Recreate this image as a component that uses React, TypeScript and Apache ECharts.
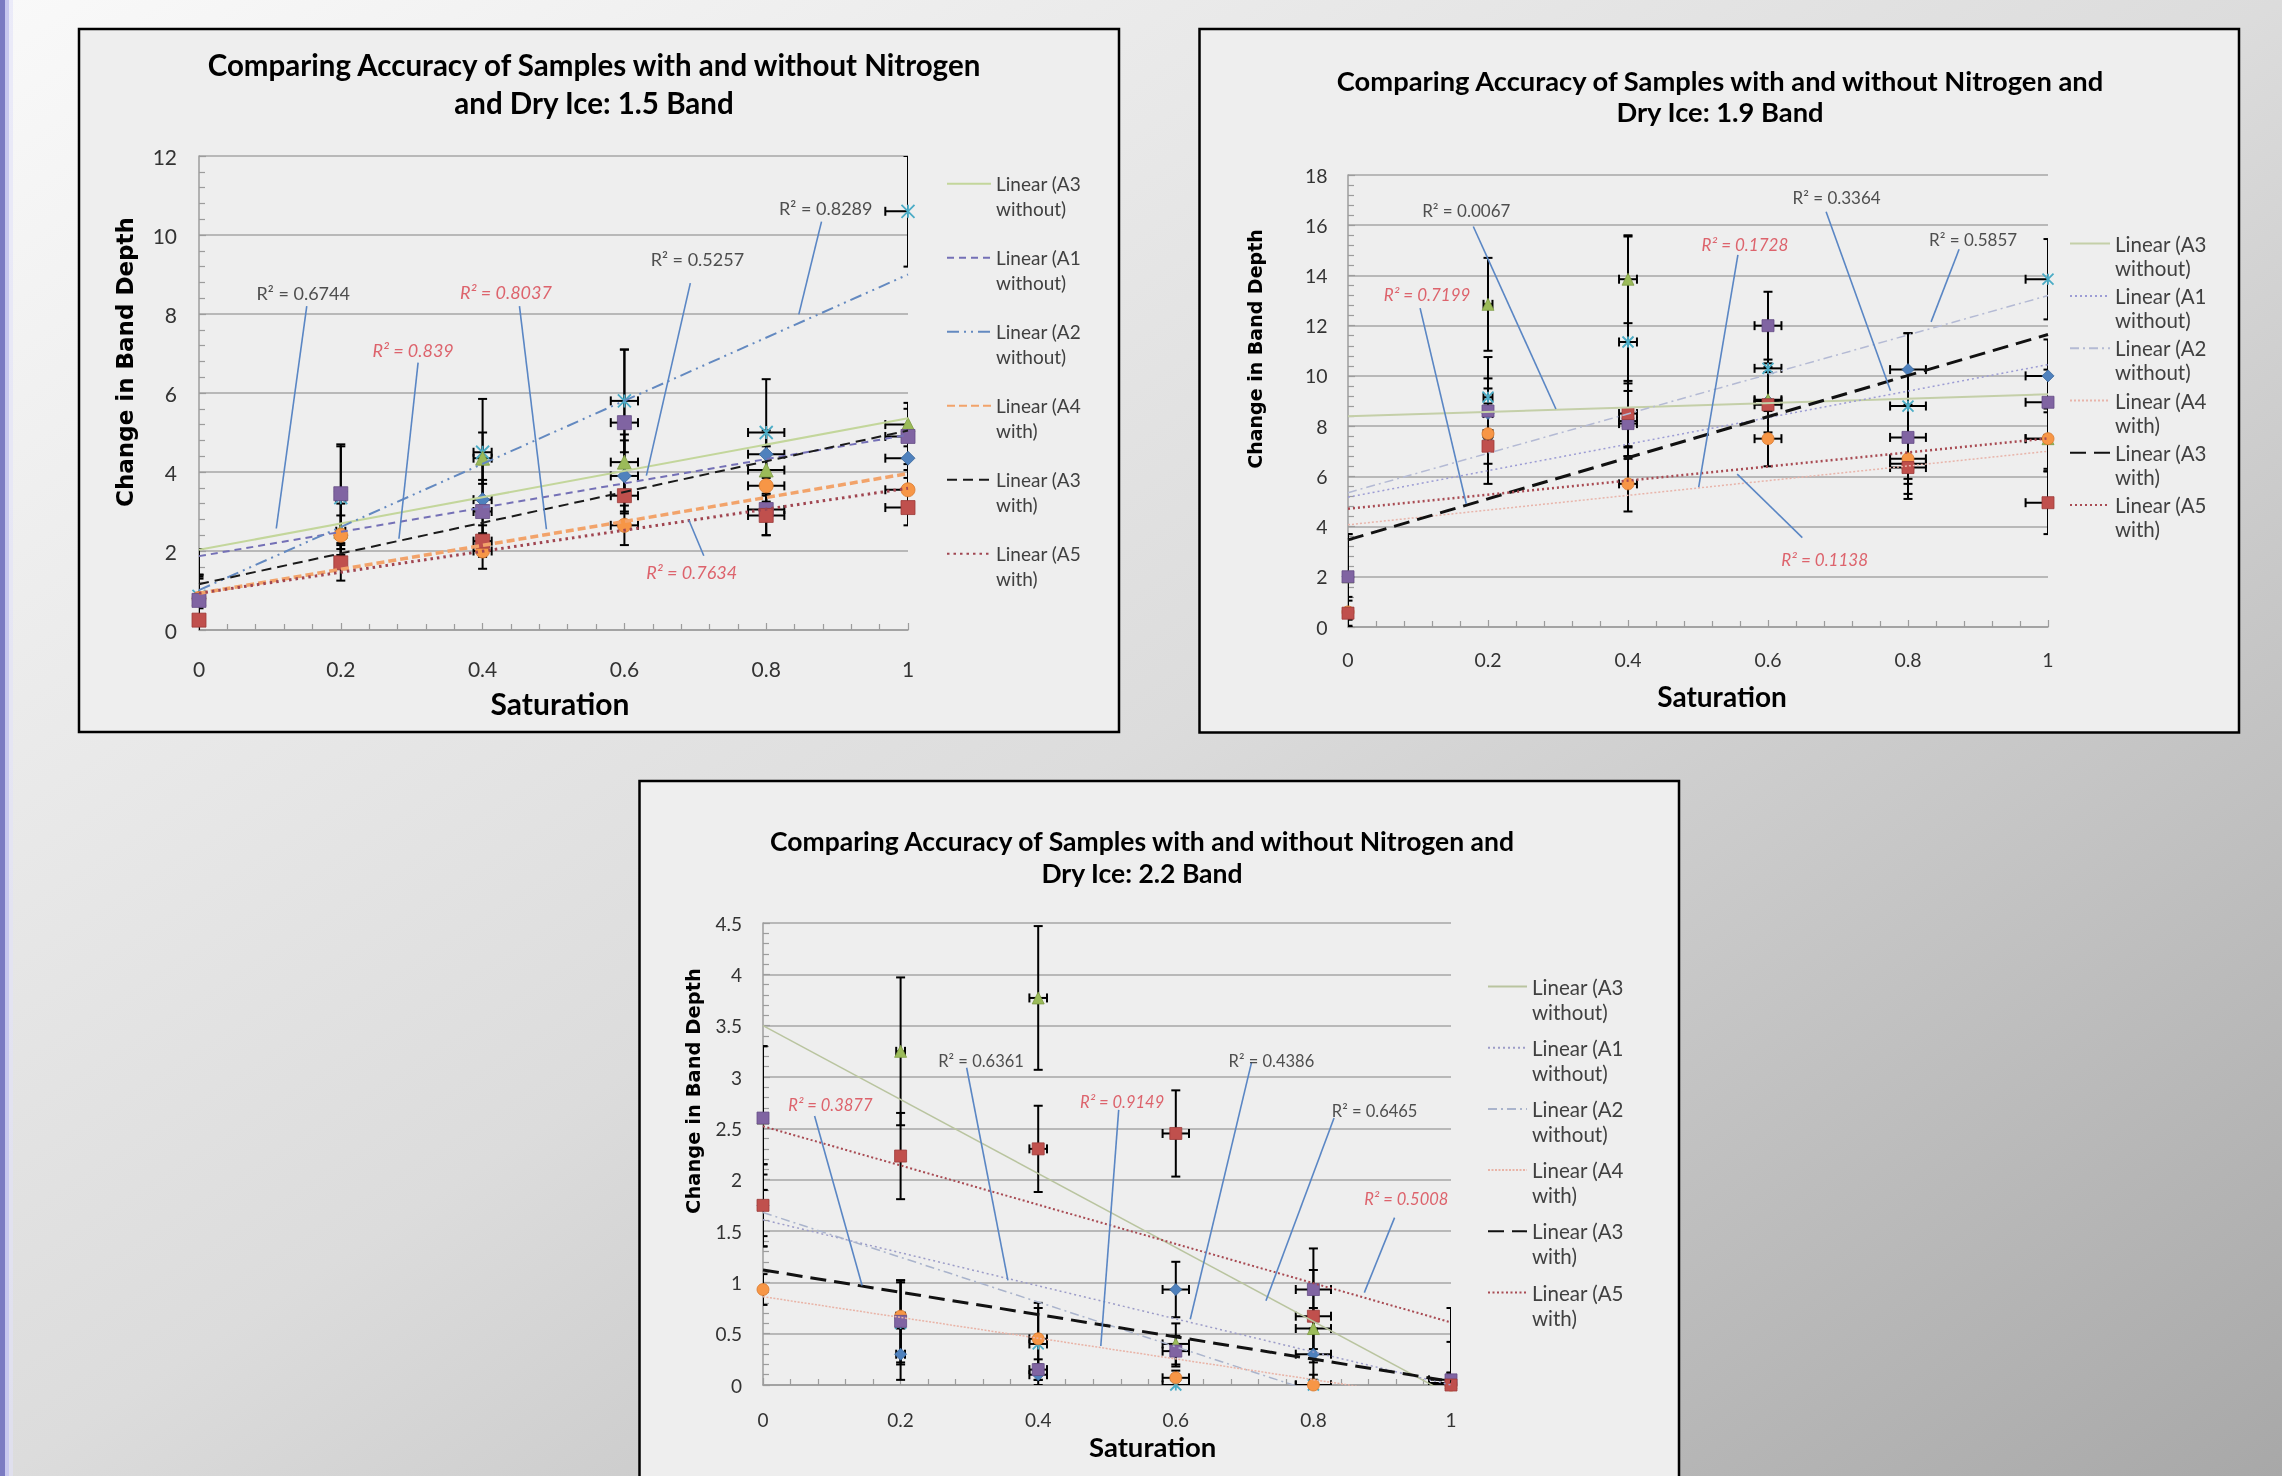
import React, { useEffect, useRef } from 'react';
import * as echarts from 'echarts';

// ---------- shared categories / labels ----------
const SATURATION = [0, 0.2, 0.4, 0.6, 0.8, 1];
const TRENDLINE_NAMES = [
  'Linear (A3 without)',
  'Linear (A1 without)',
  'Linear (A2 without)',
  'Linear (A4 with)',
  'Linear (A3 with)',
  'Linear (A5 with)',
];
const SAMPLE_NAMES = ['A1 without', 'A2 without', 'A3 without', 'A4 with', 'A3 with', 'A5 with'];
const CHART_TITLES = [
  'Comparing Accuracy of Samples with and without Nitrogen\nand Dry Ice: 1.5 Band',
  'Comparing Accuracy of Samples with and without Nitrogen and\nDry Ice: 1.9 Band',
  'Comparing Accuracy of Samples with and without Nitrogen and\nDry Ice: 2.2 Band',
];
const X_AXIS_TITLE = 'Saturation';
const Y_AXIS_TITLE = 'Change in Band Depth';
const X_ERROR_FRACTION = 0.032;

// ---------- 1.5 band ----------
const B15_A1_WITHOUT = [0.8, 2.4, 3.3, 3.9, 4.45, 4.35];
const B15_A2_WITHOUT = [0.85, 3.35, 4.5, 5.8, 5.0, 10.6];
const B15_A3_WITHOUT = [0.8, 2.5, 4.35, 4.25, 4.05, 5.2];
const B15_A4_WITH = [0.8, 2.4, 2.0, 2.65, 3.65, 3.55];
const B15_A3_WITH = [0.75, 3.45, 3.0, 5.25, 3.05, 4.9];
const B15_A5_WITH = [0.25, 1.7, 2.25, 3.4, 2.9, 3.1];
const B15_A1_WITHOUT_ERR = [0.6, 0.8, 0.9, 0.9, 0.6, 0.5];
const B15_A2_WITHOUT_ERR = [1.2, 1.3, 1.35, 1.3, 1.35, 1.4];
const B15_A3_WITHOUT_ERR = [0.6, 0.8, 0.65, 0.7, 0.6, 0.55];
const B15_A4_WITH_ERR = [0.5, 0.5, 0.45, 0.5, 0.4, 0.5];
const B15_A3_WITH_ERR = [0.6, 1.25, 0.8, 1.85, 0.65, 0.7];
const B15_A5_WITH_ERR = [0.3, 0.45, 0.4, 0.45, 0.5, 0.45];
const B15_TREND_AT_0 = [2.03, 1.87, 1.01, 0.93, 1.16, 0.93];
const B15_TREND_AT_1 = [5.36, 4.94, 9.0, 3.96, 5.05, 3.59];
const B15_R2 = [
  { text: 'R² = 0.6744', fit: 'without', at: [0.147, 8.52], from: [0.152, 8.2], to: [0.109, 2.57] },
  { text: 'R² = 0.839', fit: 'with', at: [0.302, 7.1], from: [0.309, 6.77], to: [0.282, 2.31] },
  { text: 'R² = 0.8037', fit: 'with', at: [0.433, 8.55], from: [0.452, 8.2], to: [0.49, 2.55] },
  { text: 'R² = 0.5257', fit: 'without', at: [0.703, 9.38], from: [0.693, 8.78], to: [0.631, 3.91] },
  { text: 'R² = 0.8289', fit: 'without', at: [0.884, 10.69], from: [0.878, 10.34], to: [0.846, 7.99] },
  { text: 'R² = 0.7634', fit: 'with', at: [0.695, 1.47], from: [0.712, 1.88], to: [0.691, 2.78] },
];

// ---------- 1.9 band ----------
const B19_A1_WITHOUT = [2.0, 8.5, 8.2, 9.0, 10.25, 10.0];
const B19_A2_WITHOUT = [2.0, 9.15, 11.35, 10.3, 8.8, 13.85];
const B19_A3_WITHOUT = [2.0, 12.85, 13.85, 9.05, 6.5, 7.5];
const B19_A4_WITH = [0.6, 7.7, 5.7, 7.5, 6.7, 7.5];
const B19_A3_WITH = [2.0, 8.6, 8.1, 12.0, 7.55, 8.95];
const B19_A5_WITH = [0.55, 7.2, 8.5, 8.85, 6.35, 4.95];
const B19_A1_WITHOUT_ERR = [1.5, 1.0, 1.5, 1.5, 1.45, 1.45];
const B19_A2_WITHOUT_ERR = [1.7, 1.6, 4.2, 1.6, 2.9, 1.6];
const B19_A3_WITHOUT_ERR = [1.5, 1.85, 1.75, 1.3, 1.2, 1.3];
const B19_A4_WITH_ERR = [0.6, 1.2, 1.1, 1.1, 1.0, 1.2];
const B19_A3_WITH_ERR = [1.7, 1.3, 1.3, 1.35, 1.3, 1.3];
const B19_A5_WITH_ERR = [0.5, 1.5, 1.3, 1.3, 1.25, 1.25];
const B19_TREND_AT_0 = [8.39, 5.17, 5.35, 4.07, 3.47, 4.71];
const B19_TREND_AT_1 = [9.27, 10.45, 13.2, 7.0, 11.65, 7.51];
const B19_R2 = [
  { text: 'R² = 0.0067', fit: 'without', at: [0.169, 16.59], from: [0.179, 15.95], to: [0.297, 8.68] },
  { text: 'R² = 0.7199', fit: 'with', at: [0.113, 13.25], from: [0.103, 12.7], to: [0.169, 4.9] },
  { text: 'R² = 0.1728', fit: 'with', at: [0.567, 15.22], from: [0.557, 14.82], to: [0.501, 5.57] },
  { text: 'R² = 0.3364', fit: 'without', at: [0.698, 17.09], from: [0.683, 16.54], to: [0.775, 9.41] },
  { text: 'R² = 0.5857', fit: 'without', at: [0.893, 15.44], from: [0.873, 15.04], to: [0.833, 12.15] },
  { text: 'R² = 0.1138', fit: 'with', at: [0.681, 2.7], from: [0.649, 3.56], to: [0.556, 6.09] },
];

// ---------- 2.2 band ----------
const B22_A1_WITHOUT = [1.75, 0.3, 0.1, 0.93, 0.3, 0.02];
const B22_A2_WITHOUT = [1.75, 0.6, 0.4, 0.0, 0.0, 0.02];
const B22_A3_WITHOUT = [2.6, 3.25, 3.77, 0.4, 0.55, 0.02];
const B22_A4_WITH = [0.93, 0.67, 0.45, 0.07, 0.0, 0.0];
const B22_A3_WITH = [2.6, 0.62, 0.15, 0.33, 0.93, 0.05];
const B22_A5_WITH = [1.75, 2.23, 2.3, 2.45, 0.67, 0.0];
const B22_A1_WITHOUT_ERR = [0.3, 0.25, 0.1, 0.27, 0.25, 0.4];
const B22_A2_WITHOUT_ERR = [0.4, 0.4, 0.35, 0.1, 0.1, 0.1];
const B22_A3_WITHOUT_ERR = [0.7, 0.72, 0.7, 0.2, 0.2, 0.1];
const B22_A4_WITH_ERR = [0.15, 0.35, 0.35, 0.07, 0.05, 0.05];
const B22_A3_WITH_ERR = [0.7, 0.4, 0.1, 0.15, 0.4, 0.7];
const B22_A5_WITH_ERR = [0.4, 0.42, 0.42, 0.42, 0.45, 0.1];
const B22_TREND_AT_0 = [3.5, 1.61, 1.68, 0.86, 1.12, 2.52];
const B22_TREND_AT_1 = [-0.1, 0.0, -0.5, -0.15, 0.035, 0.61];
const B22_R2 = [
  { text: 'R² = 0.3877', fit: 'with', at: [0.098, 2.73], from: [0.075, 2.62], to: [0.144, 0.97] },
  { text: 'R² = 0.6361', fit: 'without', at: [0.317, 3.16], from: [0.296, 3.09], to: [0.356, 1.02] },
  { text: 'R² = 0.9149', fit: 'with', at: [0.522, 2.76], from: [0.517, 2.68], to: [0.491, 0.38] },
  { text: 'R² = 0.4386', fit: 'without', at: [0.739, 3.16], from: [0.71, 3.14], to: [0.621, 0.64] },
  { text: 'R² = 0.6465', fit: 'without', at: [0.889, 2.67], from: [0.83, 2.6], to: [0.731, 0.82] },
  { text: 'R² = 0.5008', fit: 'with', at: [0.935, 1.81], from: [0.918, 1.63], to: [0.874, 0.9] },
];

// ---------- styles ----------
const STAR_PATH = 'path://M0 0L10 10M10 0L0 10M5 0L5 10';
const MARKERS = [
  { symbol: 'diamond', color: '#4F81BD', border: '#3a679c' },
  { symbol: STAR_PATH, color: 'rgba(0,0,0,0)', border: '#4BACC6' },
  { symbol: 'triangle', color: '#9BBB59', border: '#7f9c44' },
  { symbol: 'circle', color: '#F79646', border: '#d97a2e' },
  { symbol: 'rect', color: '#8064A2', border: '#654c85' },
  { symbol: 'rect', color: '#C0504D', border: '#9c3a38' },
];
const RED_LABEL = '#d8404b';
const FONT = 'Lato';

const TREND_STYLES_1 = [
  { color: '#c3d69b', width: 2, type: 'solid' },
  { color: '#7470b6', width: 2, type: [7, 5] },
  { color: '#6389c0', width: 2, type: [12, 5, 2, 5, 2, 5] },
  { color: '#f2a36a', width: 3.5, type: [8, 4] },
  { color: '#1a1a1a', width: 2, type: [10, 6] },
  { color: '#a04550', width: 3, type: [2.5, 4] },
];
const TREND_STYLES_2 = [
  { color: '#c4cfa8', width: 2, type: 'solid' },
  { color: '#9c9cd4', width: 1.5, type: [2, 3] },
  { color: '#b4bad4', width: 1.5, type: [9, 4, 2, 4] },
  { color: '#e8b4aa', width: 1.5, type: [2, 2] },
  { color: '#111111', width: 3, type: [16, 8] },
  { color: '#a84a52', width: 2.5, type: [2, 3] },
];
const TREND_STYLES_3 = [
  { color: '#b9c49f', width: 1.5, type: 'solid' },
  { color: '#9c9cc8', width: 1.5, type: [2, 3] },
  { color: '#aab4cc', width: 1.5, type: [9, 4, 2, 4] },
  { color: '#e9b3a6', width: 1.5, type: [2, 1.5] },
  { color: '#111111', width: 3, type: [16, 8] },
  { color: '#a84a52', width: 2, type: [2, 2.5] },
];

const PANELS = [
  {
    title: CHART_TITLES[0],
    values: [B15_A1_WITHOUT, B15_A2_WITHOUT, B15_A3_WITHOUT, B15_A4_WITH, B15_A3_WITH, B15_A5_WITH],
    errors: [B15_A1_WITHOUT_ERR, B15_A2_WITHOUT_ERR, B15_A3_WITHOUT_ERR, B15_A4_WITH_ERR, B15_A3_WITH_ERR, B15_A5_WITH_ERR],
    trend0: B15_TREND_AT_0, trend1: B15_TREND_AT_1, r2: B15_R2, trendStyles: TREND_STYLES_1,
    yMax: 12, yInterval: 2,
    grid: { left: 199, top: 156, width: 709, height: 474 },
    box: [79, 29, 1040, 703],
    titleX: 594, titleTop: 45, titleSize: 29.5, titleLH: 38,
    legendLeft: 946, legendTop: 147, legendIconW: 44, legendSize: 19, legendLH: 24.5, legendGap: 0.5,
    tickSize: 21, xLabelMargin: 28, yLabelMargin: 22,
    r2Size: 18, markerSize: 14,
    yTitle: [125, 362, 23], xTitle: [560, 703, 30],
  },
  {
    title: CHART_TITLES[1],
    values: [B19_A1_WITHOUT, B19_A2_WITHOUT, B19_A3_WITHOUT, B19_A4_WITH, B19_A3_WITH, B19_A5_WITH],
    errors: [B19_A1_WITHOUT_ERR, B19_A2_WITHOUT_ERR, B19_A3_WITHOUT_ERR, B19_A4_WITH_ERR, B19_A3_WITH_ERR, B19_A5_WITH_ERR],
    trend0: B19_TREND_AT_0, trend1: B19_TREND_AT_1, r2: B19_R2, trendStyles: TREND_STYLES_2,
    yMax: 18, yInterval: 2,
    grid: { left: 1348, top: 175, width: 700, height: 452 },
    box: [1199.5, 29, 1039.5, 703.5],
    titleX: 1720, titleTop: 65, titleSize: 27.3, titleLH: 31,
    legendLeft: 2069, legendTop: 207.6, legendIconW: 40, legendSize: 20.5, legendLH: 24, legendGap: -19.7,
    tickSize: 19.5, xLabelMargin: 22, yLabelMargin: 20.5,
    r2Size: 17, markerSize: 12,
    yTitle: [1255, 349, 19], xTitle: [1722, 696, 28],
  },
  {
    title: CHART_TITLES[2],
    values: [B22_A1_WITHOUT, B22_A2_WITHOUT, B22_A3_WITHOUT, B22_A4_WITH, B22_A3_WITH, B22_A5_WITH],
    errors: [B22_A1_WITHOUT_ERR, B22_A2_WITHOUT_ERR, B22_A3_WITHOUT_ERR, B22_A4_WITH_ERR, B22_A3_WITH_ERR, B22_A5_WITH_ERR],
    trend0: B22_TREND_AT_0, trend1: B22_TREND_AT_1, r2: B22_R2, trendStyles: TREND_STYLES_3,
    yMax: 4.5, yInterval: 0.5,
    grid: { left: 763, top: 923, width: 688, height: 462 },
    box: [639.5, 781, 1039.5, 730],
    titleX: 1142, titleTop: 825, titleSize: 26.5, titleLH: 32,
    legendLeft: 1487, legendTop: 949, legendIconW: 39, legendSize: 20.5, legendLH: 25, legendGap: -13.8,
    tickSize: 19, xLabelMargin: 24.5, yLabelMargin: 21,
    r2Size: 16.5, markerSize: 12,
    yTitle: [693.5, 1091, 19.5], xTitle: [1152.6, 1446, 27.5],
  },
];

const ZWS = '\u200b';
// leading blank line so that the first text line sits level with the legend line icon
const legendLabel = (name: string) => {
  const base = name.split(ZWS).join('');
  const i = base.lastIndexOf(' ');
  return ' \n' + base.slice(0, i) + '\n' + base.slice(i + 1);
};

function errorBarRenderer(params: any, api: any) {
  const x = api.value(0);
  const y = api.value(1);
  const ey = api.value(2);
  const ex = api.value(3);
  const top = api.coord([x, y + ey]);
  const bot = api.coord([x, y - ey]);
  const style = { stroke: '#000', lineWidth: 2 };
  const cap = 4.5;
  const children: any[] = [
    { type: 'line', shape: { x1: top[0], y1: top[1], x2: bot[0], y2: bot[1] }, style },
    { type: 'line', shape: { x1: top[0] - cap, y1: top[1], x2: top[0] + cap, y2: top[1] }, style },
    { type: 'line', shape: { x1: bot[0] - cap, y1: bot[1], x2: bot[0] + cap, y2: bot[1] }, style },
  ];
  if (ex > 0) {
    const l = api.coord([x - ex, y]);
    const r = api.coord([x + ex, y]);
    children.push(
      { type: 'line', shape: { x1: l[0], y1: l[1], x2: r[0], y2: r[1] }, style },
      { type: 'line', shape: { x1: l[0], y1: l[1] - cap, x2: l[0], y2: l[1] + cap }, style },
      { type: 'line', shape: { x1: r[0], y1: r[1] - cap, x2: r[0], y2: r[1] + cap }, style },
    );
  }
  return { type: 'group', children };
}

function buildOption() {
  const grid: any[] = [];
  const xAxis: any[] = [];
  const yAxis: any[] = [];
  const series: any[] = [];
  const legend: any[] = [];
  const title: any[] = [];
  const graphic: any[] = [
    {
      type: 'rect', z: -20, silent: true,
      shape: { x: 0, y: 0, width: 2282, height: 1476 },
      style: {
        fill: new echarts.graphic.LinearGradient(0, 0, 1, 1, [
          { offset: 0, color: '#f9f9f9' },
          { offset: 0.5, color: '#dcdcdc' },
          { offset: 1, color: '#a8a8a8' },
        ]),
      },
    },
    { type: 'rect', z: -19, silent: true, shape: { x: 0, y: 0, width: 5, height: 1476 }, style: { fill: '#7b7bc2' } },
    { type: 'rect', z: -19, silent: true, shape: { x: 5, y: 0, width: 4, height: 1476 }, style: { fill: '#c8c8ef' } },
    { type: 'rect', z: -19, silent: true, shape: { x: 9, y: 0, width: 4, height: 1476 }, style: { fill: 'rgba(225,225,248,0.6)' } },
  ];

  PANELS.forEach((p, pi) => {
    const suffix = ZWS.repeat(pi);
    graphic.push({
      type: 'rect', z: -10, silent: true,
      shape: { x: p.box[0], y: p.box[1], width: p.box[2], height: p.box[3] },
      style: { fill: '#eeeeee', stroke: '#000000', lineWidth: 2.5 },
    });
    graphic.push({
      type: 'text', z: 10, silent: true, x: p.yTitle[0], y: p.yTitle[1], rotation: Math.PI / 2,
      style: {
        text: Y_AXIS_TITLE, fill: '#000', fontFamily: '"DejaVu Sans"', fontWeight: 'bold',
        fontSize: p.yTitle[2], align: 'center', verticalAlign: 'middle',
      },
    });
    graphic.push({
      type: 'text', z: 10, silent: true, x: p.xTitle[0], y: p.xTitle[1],
      style: {
        text: X_AXIS_TITLE, fill: '#000', fontFamily: FONT, fontWeight: 'bold',
        fontSize: p.xTitle[2], align: 'center', verticalAlign: 'middle',
      },
    });

    title.push({
      text: p.title, left: p.titleX, top: p.titleTop, textAlign: 'center', padding: 0,
      textStyle: { fontFamily: FONT, fontWeight: 'bold', fontSize: p.titleSize, lineHeight: p.titleLH, color: '#000' },
    });

    grid.push({ ...p.grid, containLabel: false });

    const axisColor = '#9c9c9c';
    xAxis.push({
      type: 'value', gridIndex: pi, min: 0, max: 1, interval: 0.2,
      axisLine: { show: true, onZero: false, lineStyle: { color: axisColor, width: 1.5 } },
      axisTick: { show: true, inside: true, length: 7, lineStyle: { color: axisColor, width: 1.2 } },
      minorTick: { show: true, splitNumber: 5, length: 6, lineStyle: { color: axisColor, width: 1.2 } },
      splitLine: { show: false },
      axisLabel: { fontFamily: FONT, fontSize: p.tickSize, color: '#333', margin: p.xLabelMargin },
    });
    yAxis.push({
      type: 'value', gridIndex: pi, min: 0, max: p.yMax, interval: p.yInterval,
      axisLine: { show: true, onZero: false, lineStyle: { color: axisColor, width: 1.5 } },
      axisTick: { show: true, inside: true, length: 7, lineStyle: { color: axisColor, width: 1.2 } },
      minorTick: { show: true, splitNumber: 5, length: 6, lineStyle: { color: axisColor, width: 1.2 } },
      splitLine: { show: true, lineStyle: { color: '#a6a6a6', width: 1.5 } },
      axisLabel: { fontFamily: FONT, fontSize: p.tickSize, color: '#333', margin: p.yLabelMargin },
    });

    // error bars (below the markers)
    const errData: number[][] = [];
    p.values.forEach((vals, si) => {
      SATURATION.forEach((x, k) => {
        errData.push([x, vals[k], p.errors[si][k], x * X_ERROR_FRACTION]);
      });
    });
    series.push({
      type: 'custom', name: 'error bars' + suffix, xAxisIndex: pi, yAxisIndex: pi, z: 3, silent: true, clip: true,
      renderItem: errorBarRenderer, encode: { x: 0, y: 1 }, data: errData,
    });

    // markers
    p.values.forEach((vals, si) => {
      const m = MARKERS[si];
      series.push({
        type: 'scatter', name: SAMPLE_NAMES[si] + suffix, xAxisIndex: pi, yAxisIndex: pi, z: 4, silent: true,
        symbol: m.symbol, symbolSize: si === 1 ? p.markerSize - 1 : p.markerSize,
        itemStyle: { color: m.color, borderColor: m.border, borderWidth: si === 1 ? 1.8 : 0.8, opacity: 1 },
        data: SATURATION.map((x, k) => [x, vals[k]]),
      });
    });

    // trendlines
    TRENDLINE_NAMES.forEach((name, ti) => {
      const st = p.trendStyles[ti];
      series.push({
        type: 'line', name: name + suffix, xAxisIndex: pi, yAxisIndex: pi, z: 5, silent: true,
        symbol: 'none', clip: true, color: st.color,
        lineStyle: { color: st.color, width: st.width, type: st.type },
        data: [[SATURATION[0], p.trend0[ti]], [SATURATION[SATURATION.length - 1], p.trend1[ti]]],
      });
    });

    // R² leader lines
    series.push({
      type: 'lines', name: 'leaders' + suffix, coordinateSystem: 'cartesian2d', xAxisIndex: pi, yAxisIndex: pi,
      z: 6, silent: true, polyline: false,
      lineStyle: { color: '#5a86c4', width: 1.6, opacity: 1 },
      data: p.r2.map((r) => ({ coords: [r.from, r.to] })),
    });

    // R² labels
    series.push({
      type: 'scatter', name: 'r2' + suffix, xAxisIndex: pi, yAxisIndex: pi, z: 7, silent: true,
      symbolSize: 1, itemStyle: { color: 'rgba(0,0,0,0)' },
      data: p.r2.map((r) => ({
        value: r.at,
        label: {
          show: true, position: 'inside', formatter: r.text, fontFamily: FONT, fontSize: p.r2Size,
          color: r.fit === 'with' ? RED_LABEL : '#262626', fontStyle: r.fit === 'with' ? 'italic' : 'normal',
        },
      })),
    });

    legend.push({
      orient: 'vertical', left: p.legendLeft, top: p.legendTop, padding: 0, selectedMode: false,
      itemWidth: p.legendIconW, itemHeight: 14, itemGap: p.legendGap,
      itemStyle: { opacity: 0 },
      data: TRENDLINE_NAMES.map((n) => n + suffix),
      formatter: legendLabel,
      textStyle: {
        fontFamily: FONT, fontSize: p.legendSize, lineHeight: p.legendLH, color: '#404040',
      },
    });
  });

  return {
    animation: false,
    textStyle: { fontFamily: FONT },
    title, grid, xAxis, yAxis, legend, graphic, series,
  };
}

export default function App() {
  const ref = useRef<HTMLDivElement>(null);
  useEffect(() => {
    if (!ref.current) return;
    const chart = echarts.init(ref.current, undefined, { renderer: 'svg' });
    chart.setOption(buildOption() as any);
    return () => chart.dispose();
  }, []);
  return (
    <div
      ref={ref}
      style={{ position: 'fixed', left: 0, top: 0, width: 2282, height: 1476 }}
    />
  );
}
